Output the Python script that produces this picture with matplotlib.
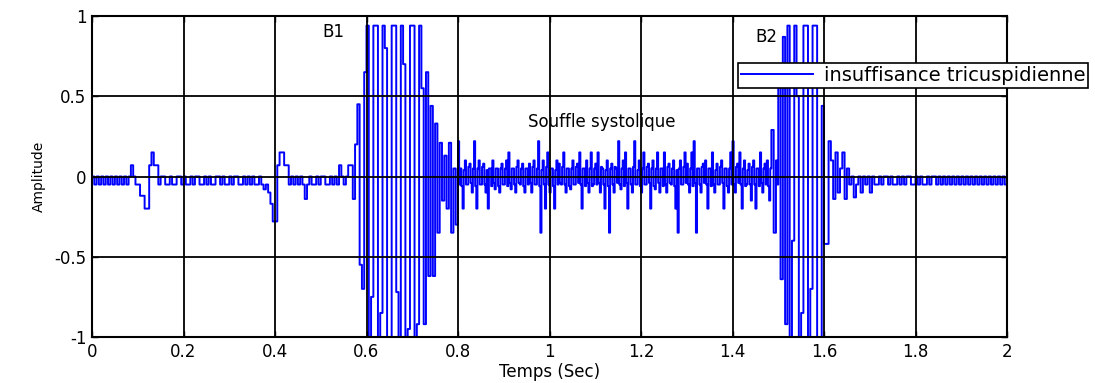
import numpy as np
import matplotlib
matplotlib.use("Agg")
import matplotlib.pyplot as plt

# =============================================================================
# Signal PCG (insuffisance tricuspidienne)
# pas de 5 ms, sauf le souffle systolique releve tous les 2.5 ms

dt = 0.005
dt_souffle = 0.0025

repos_1 = [0, -0.05, 0, -0.05, 0, -0.05, 0, -0.05, 0, -0.05,
           0, -0.05, 0, -0.05, 0, -0.05, 0, 0.07, 0, -0.05,
           -0.05, -0.12, -0.12, -0.2, -0.2, 0.07, 0.15, 0.07, 0.07, -0.05]

repos_2 = [0, 0, -0.05, -0.05, 0, -0.05, -0.05, 0, 0, -0.05,
           0, -0.05, -0.05, 0, -0.05, 0, 0, -0.05, -0.05, 0,
           -0.05, 0, -0.05, -0.05, 0, 0, -0.05, 0, -0.05, -0.05,
           0, -0.05, 0, 0, -0.05, -0.05, 0, -0.05, 0, -0.05,
           0, -0.05, -0.05, 0, -0.05, -0.08]

bosse = [-0.05, -0.1, -0.17, -0.28, -0.28, 0.07, 0.15, 0.15, 0.07, 0.07,
         -0.05, 0, -0.05, 0]

repos_3 = [-0.05, 0, -0.05, -0.14, -0.05, 0, -0.05, -0.05, 0, -0.05,
           0, 0, -0.05, -0.05, 0, -0.05, 0, -0.05, 0.07, 0, -0.05]

pre_b1 = [0, 0.07, 0.07, -0.14, 0.2, 0.45, -0.55, -0.7, 0.65]

b1 = [0.94, -1.05, -0.75, 0.94, 0.94, -1.05, -0.85, 0.94, 0.8, -1.05,
      -1.05, 0.94, 0.94, -0.72, -1.05, 0.94, 0.7, -1.05, -0.95, 0.94,
      0.94, -1.05, -0.92, 0.94, 0.55, -0.92, 0.65, -0.62, 0.44, -0.62,
      0.33, -0.35, 0.21, -0.15, 0.13, -0.2, 0.21, -0.35, 0.05, -0.3]

souffle = [
    0.22, -0.05, 0.05, -0.06, -0.2, 0.04, 0.1, -0.05, -0.05, 0.06,
    0.08, -0.04, -0.1, 0.05, 0.22, -0.06, -0.2, 0.05, 0.1, -0.05,
    -0.05, 0.06, 0.08, -0.05, -0.1, 0.04, -0.2, 0.05, 0.05, -0.06,
    0.1, -0.04, -0.08, 0.05, 0.05, -0.06, -0.1, 0.05, 0.08, -0.05,
    -0.05, 0.05, 0.1, -0.06, 0.15, -0.04, -0.08, 0.05, 0.05, -0.05,
    -0.1, 0.06, 0.1, -0.04, -0.05, 0.05, 0.08, -0.06, -0.1, 0.05,
    0.05, -0.05, 0.08, -0.04, -0.1, 0.06, 0.1, -0.05, -0.05, 0.05,
    0.22, -0.06, -0.35, 0.04, 0.1, -0.05, -0.2, 0.06, 0.15, -0.05,
    -0.1, 0.05, 0.05, -0.06, -0.2, 0.04, 0.1, -0.05, 0.08, -0.04,
    -0.05, 0.06, 0.15, -0.05, -0.1, 0.05, 0.05, -0.06, -0.08, 0.05,
    0.1, -0.05, -0.05, 0.06, 0.08, -0.04, 0.15, -0.05, -0.2, 0.05,
    0.05, -0.06, 0.1, -0.04, -0.1, 0.05, 0.15, -0.06, -0.05, 0.05,
    0.08, -0.05, 0.15, -0.04, -0.1, 0.06, 0.05, -0.05, -0.2, 0.04,
    0.1, -0.06, -0.35, 0.05, 0.08, -0.05, -0.1, 0.06, 0.05, -0.04,
    0.22, -0.05, -0.08, 0.05, 0.1, -0.06, 0.15, -0.04, -0.2, 0.05,
    0.05, -0.05, -0.1, 0.06, 0.22, -0.05, -0.05, 0.04, 0.1, -0.06,
    -0.1, 0.05, 0.15, -0.05, -0.05, 0.06, 0.08, -0.04, -0.2, 0.05,
    0.1, -0.06, -0.08, 0.05, 0.15, -0.04, -0.1, 0.05, 0.05, -0.06,
    0.15, -0.05, -0.1, 0.06, 0.08, -0.04, -0.05, 0.05, 0.1, -0.06,
    -0.2, 0.04, -0.35, 0.05, 0.1, -0.05, -0.05, 0.06, 0.15, -0.04,
    0.08, -0.05, -0.1, 0.05, 0.15, -0.06, 0.22, -0.04, -0.35, 0.05,
    0.05, -0.05, -0.1, 0.06, 0.08, -0.04, 0.1, -0.05, -0.2, 0.05,
    0.05, -0.06, 0.15, -0.05, -0.1, 0.04, 0.08, -0.05, -0.05, 0.06,
    0.1, -0.04, -0.2, 0.05, 0.05, -0.06, -0.1, 0.05, 0.15, -0.05,
    0.22, -0.05, -0.1, 0.06, 0.08, -0.04, 0.15, -0.05, -0.2, 0.05,
    0.1, -0.06, -0.05, 0.04, 0.08, -0.05, -0.15, 0.06, 0.1, -0.05,
    -0.2, 0.05, 0.05, -0.06, 0.15, -0.04, -0.1, 0.05, 0.08, -0.05,
    0.1, -0.06, -0.15, 0.05, 0.29, 0.29, -0.35, -0.35, 0.1, -0.05,
]

b2 = [0.6, -0.64, 0.87, -0.92, 0.94, -1.05, -0.4, 0.94, 0.5, -1.05,
      -0.85, 0.94, 0.94, -1.05, -0.7, 0.94, 0.94, -1.05, -1.05, 0.44,
      -0.42, -0.42, 0.22, 0.1, -0.14, 0.15, -0.1, 0.05, 0.15, -0.14,
      0.05, -0.05, 0, -0.13, -0.05, 0, -0.1, 0, -0.05, 0]

repos_4 = [-0.1, 0, -0.05, -0.05, 0, -0.05, 0, 0, -0.05, 0,
           -0.05, -0.05, 0, -0.05, 0, -0.05, 0, 0, -0.05, -0.05,
           0, -0.05, 0, -0.05, -0.05, 0, -0.05, 0, 0, -0.05,
           0, -0.05, 0, -0.05, 0, -0.05, 0, -0.05, 0, -0.05,
           0, -0.05, 0, -0.05, 0, -0.05, 0, -0.05, 0, -0.05,
           0, -0.05, 0, -0.05, 0, -0.05, 0, -0.05, 0, -0.05, 0]

x_ticks = [0, 0.2, 0.4, 0.6, 0.8, 1, 1.2, 1.4, 1.6, 1.8, 2]
x_tick_labels = ["0", "0.2", "0.4", "0.6", "0.8", "1", "1.2", "1.4", "1.6", "1.8", "2"]
y_ticks = [-1, -0.5, 0, 0.5, 1]
y_tick_labels = ["-1", "-0.5", "0", "0.5", "1"]

# =============================================================================

debut = repos_1 + repos_2 + bosse + repos_3 + pre_b1 + b1
fin = b2 + repos_4
t_debut = np.arange(len(debut)) * dt
t_souffle = 0.8 + np.arange(len(souffle)) * dt_souffle
t_fin = 1.5 + np.arange(len(fin)) * dt

temps = np.concatenate([t_debut, t_souffle, t_fin])
amplitude = np.array(debut + souffle + fin)

fig = plt.figure(figsize=(10.95, 3.83), dpi=100)
ax = fig.add_axes([92 / 1095, 1 - 337 / 383, 915 / 1095, 321 / 383])

ax.plot(temps, amplitude, color="#0000ff", linewidth=1.4,
        drawstyle="steps-post", label="insuffisance tricuspidienne")

ax.set_xlim(0, 2)
ax.set_ylim(-1, 1)
ax.set_xticks(x_ticks)
ax.set_xticklabels(x_tick_labels)
ax.set_yticks(y_ticks)
ax.set_yticklabels(y_tick_labels)
ax.tick_params(direction="in", length=4, width=1, top=True, right=True,
               labelsize=12, pad=4)
ax.grid(True, color="black", linewidth=1.3, linestyle="-")
ax.set_axisbelow(False)
for spine in ax.spines.values():
    spine.set_linewidth(1.5)

ax.set_xlabel("Temps (Sec)", fontsize=12, labelpad=2)
ax.set_ylabel("Amplitude", fontsize=10, labelpad=6)

ax.text(0.503, 0.90, "B1", fontsize=12, va="center", ha="left")
ax.text(1.449, 0.87, "B2", fontsize=12, va="center", ha="left")
ax.text(0.953, 0.34, "Souffle systolique", fontsize=12, va="center", ha="left")

fig.legend(
    loc="upper left",
    bbox_to_anchor=(738 / 1095, 1 - 63 / 383),
    borderaxespad=0,
    fancybox=False,
    edgecolor="black",
    framealpha=1,
    fontsize=14,
    borderpad=0.15,
    handlelength=3.7,
    handletextpad=0.55,
).get_frame().set_linewidth(1.2)

plt.savefig("out.png", dpi=100)
plt.close()
